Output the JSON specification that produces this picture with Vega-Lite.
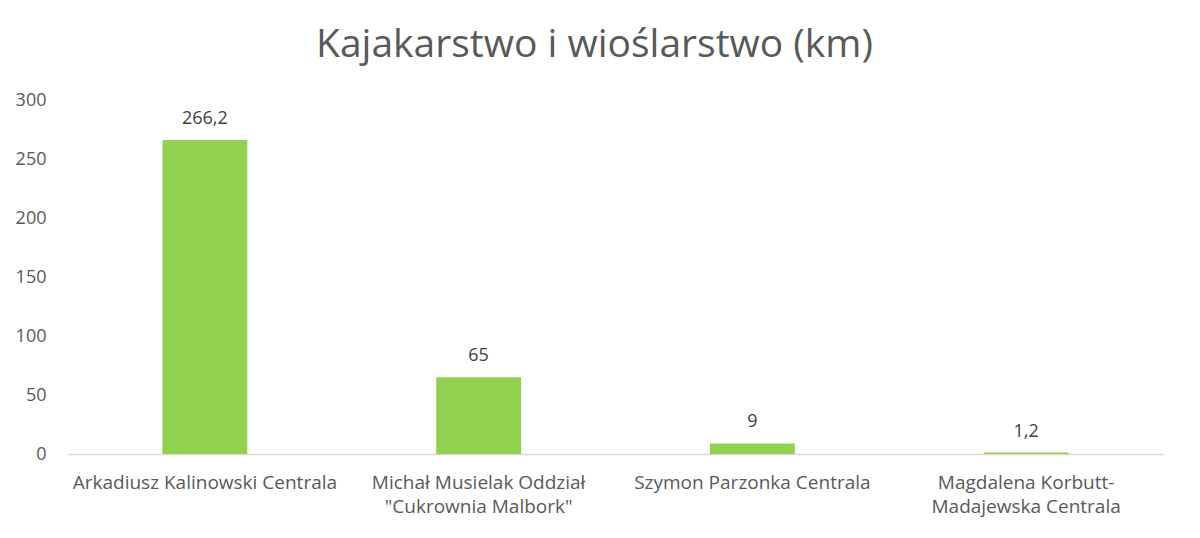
{
  "$schema": "https://vega.github.io/schema/vega-lite/v6.json",
  "autosize": {"type": "none"},
  "padding": {"left": 68, "top": 100, "right": 37, "bottom": 84},
  "width": 1095,
  "height": 354,
  "background": "white",
  "config": {
    "locale": {"number": {"decimal": ",", "thousands": " ", "grouping": [3], "currency": ["", " zł"]}},
    "view": {"stroke": null},
    "font": "Open Sans"
  },
  "title": {
    "text": "Kajakarstwo i wioślarstwo (km)",
    "font": "Open Sans",
    "fontSize": 39,
    "fontWeight": "normal",
    "color": "#595959",
    "anchor": "middle",
    "offset": 26,
    "dx": -21
  },
  "data": {
    "values": [
      {"osoba": "Arkadiusz Kalinowski Centrala", "km": 266.2},
      {"osoba": "Michał Musielak Oddział|\"Cukrownia Malbork\"", "km": 65},
      {"osoba": "Szymon Parzonka Centrala", "km": 9},
      {"osoba": "Magdalena Korbutt-|Madajewska Centrala", "km": 1.2}
    ]
  },
  "encoding": {
    "x": {
      "field": "osoba",
      "type": "nominal",
      "sort": null,
      "scale": {"paddingInner": 0.69, "paddingOuter": 0.345},
      "axis": {
        "title": null,
        "labelAngle": 0,
        "labelExpr": "split(datum.label, '|')",
        "labelFont": "Open Sans",
        "labelFontSize": 19,
        "labelColor": "#595959",
        "labelLineHeight": 24,
        "labelPadding": 19,
        "labelLimit": 400,
        "ticks": false,
        "domainColor": "#D9D9D9",
        "domainWidth": 1.5
      }
    },
    "y": {
      "field": "km",
      "type": "quantitative",
      "scale": {"domain": [0, 300]},
      "axis": {
        "title": null,
        "values": [0, 50, 100, 150, 200, 250, 300],
        "grid": false,
        "domain": false,
        "ticks": false,
        "labelFont": "Open Sans",
        "labelFontSize": 18,
        "labelColor": "#595959",
        "labelPadding": 22
      }
    }
  },
  "layer": [
    {"mark": {"type": "bar", "color": "#92D050"}},
    {
      "mark": {"type": "text", "baseline": "bottom", "dy": -12, "font": "Open Sans", "fontSize": 18, "color": "#404040"},
      "encoding": {"text": {"field": "km", "type": "quantitative", "format": ".1~f"}}
    }
  ]
}
